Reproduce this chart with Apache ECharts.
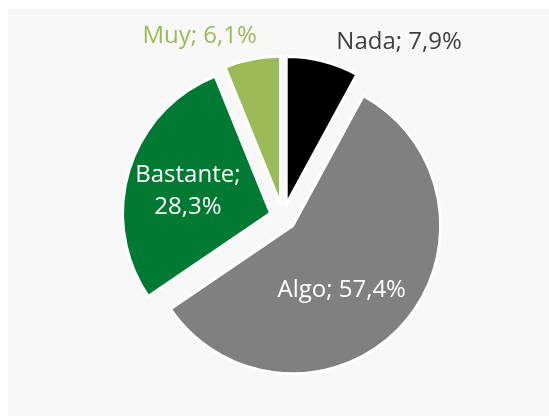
<!DOCTYPE html>
<html>
<head>
<meta charset="utf-8">
<script src="https://cdn.jsdelivr.net/npm/echarts@6/dist/echarts.min.js"></script>
<style>
  html, body { margin: 0; padding: 0; background: #fff; }
  #main { width: 549px; height: 416px; }
</style>
</head>
<body>
<div id="main"></div>
<script>
var categories = ['Nada', 'Algo', 'Bastante', 'Muy'];
var values = [7.9, 57.4, 28.3, 6.1];
var colors = ['#000000', '#808080', '#007a33', '#9bbb59'];

var fmt = function (v) { return String(v).replace('.', ','); };

var chart = echarts.init(document.getElementById('main'), null, { renderer: 'canvas' });

var labelCfg = [
    { position: 'outside', color: '#404040', formatter: (p) => p.name + '; ' + fmt(p.value) + '%' },
    { position: 'inside', color: '#ffffff', formatter: (p) => p.name + '; ' + fmt(p.value) + '%' },
    { position: 'inside', color: '#ffffff', formatter: (p) => p.name + ';\n' + fmt(p.value) + '%' },
    { position: 'outside', color: '#9bbb59', formatter: (p) => p.name + '; ' + fmt(p.value) + '%' }
];
var lineLen = [[19, 6], null, null, [23, 0]];

var seriesData = categories.map(function (name, i) {
    var item = {
        name: name,
        value: values[i],
        selected: true,
        itemStyle: { color: colors[i] },
        label: labelCfg[i]
    };
    if (lineLen[i]) item.labelLine = { show: false, length: lineLen[i][0], length2: lineLen[i][1] };
    return item;
});

var option = {
    animation: false,
    graphic: [{
        type: 'rect',
        left: 8, top: 9, z: -10,
        shape: { width: 541, height: 407 },
        style: { fill: '#f8f8f8' }
    }],
    series: [{
        type: 'pie',
        center: [283, 217],
        radius: 148,
        startAngle: 90,
        clockwise: true,
        selectedMode: 'multiple',
        selectedOffset: 13,
        avoidLabelOverlap: false,
        itemStyle: { borderColor: '#ffffff', borderWidth: 3 },
        label: {
            fontFamily: 'Open Sans',
            fontWeight: 500,
            fontSize: 24,
            lineHeight: 32
        },
        labelLine: { show: false },
        emphasis: { disabled: true },
        labelLayout: function (params) {
            if (params.dataIndex === 1) return { dx: -8, dy: 13 };
            if (params.dataIndex === 2) return { dx: -9, dy: 0 };
            if (params.dataIndex === 3) return { dx: 14, dy: 0 };
            return { dx: -2 };
        },
        data: seriesData
    }]
};

chart.setOption(option);
window.addEventListener('resize', chart.resize);
</script>
</body>
</html>
